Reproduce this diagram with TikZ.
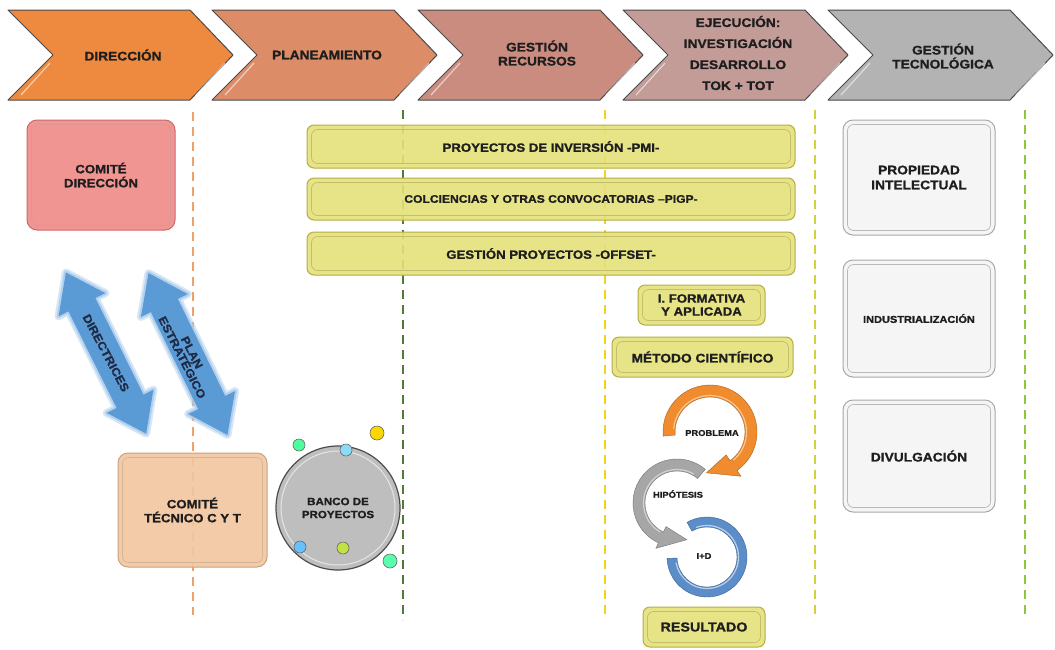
\documentclass[tikz,border=0pt]{standalone}
\usepackage{fontspec}
\setmainfont{Liberation Sans}
\newfontfamily\wf{Liberation Sans}[FakeStretch=1.1, FakeBold=1.2]
\definecolor{chA}{HTML}{EE8A3F}
\definecolor{chB}{HTML}{DC8C66}
\definecolor{chC}{HTML}{CB8C80}
\definecolor{chD}{HTML}{C49C97}
\definecolor{chE}{HTML}{B3B3B3}
\definecolor{chline}{HTML}{4A4A4A}
\definecolor{txt}{HTML}{1E1E1E}
\definecolor{ybar}{HTML}{E5E17A}
\definecolor{ybord}{HTML}{B4AE45}
\definecolor{cdirf}{HTML}{F08A88}
\definecolor{cdirb}{HTML}{CC6A6A}
\definecolor{ctecf}{HTML}{F3C6A0}
\definecolor{ctecb}{HTML}{C9A27F}
\definecolor{gboxf}{HTML}{F5F5F5}
\definecolor{gboxb}{HTML}{A8A8A8}
\definecolor{arrb}{HTML}{5B9BD5}
\definecolor{arrg}{HTML}{A9CBEB}
\definecolor{arrt}{HTML}{1F2A44}
\definecolor{bancof}{HTML}{BEBEBE}
\definecolor{lnA}{HTML}{F2A06A}
\definecolor{lnB}{HTML}{4F7B35}
\definecolor{lnC}{HTML}{F2D21B}
\definecolor{lnD}{HTML}{D2D23A}
\definecolor{lnE}{HTML}{8DC63F}
\definecolor{cyO}{HTML}{F08C2E}
\definecolor{cyG}{HTML}{A6A6A6}
\definecolor{cyB}{HTML}{5B8DC9}
\newcommand\mybevel[2]{\draw[#2, rounded corners=6pt, line width=0.7pt] ([shift={(5pt,-5pt)}]#1.north west) rectangle ([shift={(-5pt,5pt)}]#1.south east);}
\newcommand\dblpath{(-90,0) -- (-54,26) -- (-54,15) -- (54,15) -- (54,26) -- (90,0) -- (54,-26) -- (54,-15) -- (-54,-15) -- (-54,-26) -- cycle}
\begin{document}
\begin{tikzpicture}[x=1pt,y=-1pt,
  chev/.style={draw=chline, line width=1pt, line join=round},
  hdtext/.style={text=txt, align=center, font=\wf\bfseries\fontsize{12.5}{14}\selectfont},
  vline/.style={dash pattern=on 9pt off 6pt, line width=1.4pt},
  bevbox/.style={rounded corners=10pt, line width=1pt, inner sep=0pt, align=center, text=txt, fill opacity=0.9, text opacity=1},
  ybarbox/.style={rounded corners=7pt, line width=1pt, fill=ybar, draw=ybord, inner sep=0pt, align=center, text=txt, fill opacity=0.9, text opacity=1},
  arrtext/.style={text=arrt, align=center, font=\wf\bfseries\fontsize{11.5}{11}\selectfont},
  cylabel/.style={text=txt, font=\wf\bfseries\fontsize{8.5}{10}\selectfont},
  dot/.style={circle, draw=black!60, line width=0.6pt, minimum size=12pt, inner sep=0pt}
]
\useasboundingbox (0,0) rectangle (1055,649);
\fill[white] (0,0) rectangle (1055,649);

% vertical dashed lines
\draw[vline, lnA] (193,112) -- (193,615);
\draw[vline, lnB] (403,110) -- (403,620);
\draw[vline, lnC] (605,110) -- (605,620);
\draw[vline, lnD] (815,110) -- (815,620);
\draw[vline, lnE] (1025,110) -- (1025,615);

% chevrons
\foreach \x/\c in {8/chA,212/chB,418/chC,623/chD,828/chE} {
  \filldraw[chev, fill=\c] (\x,10) -- ++(182,0) -- ++(43,45) -- ++(-43,45) -- ++(-182,0) -- ++(45,-45) -- cycle;
  \draw[white, opacity=0.55, line width=1.3pt] (\x+13,95) -- (\x+42,63);
  \draw[white, opacity=0.55, line width=1.3pt] (\x+188,95) -- (\x+217,63);
}
\node[hdtext] (h1) at (123,55) {DIRECCIÓN};
\node[hdtext] (h2) at (327,55) {PLANEAMIENTO};
\node[hdtext] (h3) at (537,53) {GESTIÓN\\RECURSOS};
\node[hdtext, font=\wf\bfseries\fontsize{12.5}{21}\selectfont] (h4) at (738,53) {EJECUCIÓN:\\INVESTIGACIÓN\\DESARROLLO\\TOK + TOT};
\node[hdtext] (h5) at (943,56) {GESTIÓN\\TECNOLÓGICA};

% yellow bars
\node[ybarbox, minimum width=488pt, minimum height=43pt, font=\wf\bfseries\fontsize{12}{14}\selectfont] (pmi) at (551,146.5) {PROYECTOS DE INVERSIÓN -PMI-};
\node[ybarbox, minimum width=488pt, minimum height=42pt, font=\wf\bfseries\fontsize{11}{13}\selectfont] (pigp) at (551,199) {COLCIENCIAS Y OTRAS CONVOCATORIAS –PIGP-};
\node[ybarbox, minimum width=488pt, minimum height=43pt, font=\wf\bfseries\fontsize{12}{14}\selectfont] (offset) at (551,253.5) {GESTIÓN PROYECTOS -OFFSET-};
\foreach \n in {pmi,pigp,offset} {\mybevel{\n}{ybord!80}}

% small yellow boxes
\node[ybarbox, minimum width=127pt, minimum height=40pt, font=\wf\bfseries\fontsize{12}{13}\selectfont] (form) at (701.5,305) {I. FORMATIVA\\Y APLICADA};
\node[ybarbox, minimum width=181pt, minimum height=40pt, font=\wf\bfseries\fontsize{12.5}{14}\selectfont] (metodo) at (702.5,357) {MÉTODO CIENTÍFICO};
\node[ybarbox, minimum width=122pt, minimum height=40pt, font=\wf\bfseries\fontsize{13}{15}\selectfont] (res) at (704,627) {RESULTADO};
\foreach \n in {form,metodo,res} {\mybevel{\n}{ybord!80}}

% comite direccion
\node[bevbox, fill=cdirf, draw=cdirb, minimum width=148pt, minimum height=110pt, font=\wf\bfseries\fontsize{12}{14}\selectfont] (cdir) at (101,175) {COMITÉ\\DIRECCIÓN};
\mybevel{cdir}{cdirb!70}

% comite tecnico
\node[bevbox, fill=ctecf, draw=ctecb, minimum width=149pt, minimum height=114pt, font=\wf\bfseries\fontsize{12}{14}\selectfont] (ctec) at (192.5,510) {COMITÉ\\TÉCNICO C Y T};
\mybevel{ctec}{ctecb!80}

% double arrows
\begin{scope}[shift={(106,353)}, rotate=-63.5]
  \draw[arrg, line width=8pt, line join=round, opacity=0.45] \dblpath;
  \draw[arrg, line width=4pt, line join=round, opacity=0.8] \dblpath;
  \fill[arrb] \dblpath;
\end{scope}
\node[arrtext, rotate=-62] (dirtxt) at (106,353) {DIRECTRICES};
\begin{scope}[shift={(188,354)}, rotate=-64]
  \draw[arrg, line width=8pt, line join=round, opacity=0.45] \dblpath;
  \draw[arrg, line width=4pt, line join=round, opacity=0.8] \dblpath;
  \fill[arrb] \dblpath;
\end{scope}
\node[arrtext, rotate=-63] (plantxt) at (187,355) {PLAN\\ESTRATÉGICO};

% banco de proyectos
\node[circle, fill=bancof, draw=black!70, line width=1.2pt, minimum size=124pt, inner sep=0pt, align=center, text=txt, font=\wf\bfseries\fontsize{10.5}{13}\selectfont] (banco) at (338,508) {BANCO DE\\PROYECTOS};
\draw[white!80!gray, line width=1pt] (banco.center) circle (57pt);
\node[dot, fill=green!55!cyan!70] (d1) at (299,445) {};
\node[dot, fill=cyan!45] (d2) at (346,450) {};
\node[dot, fill=yellow!75!orange, minimum size=14pt] (d3) at (377,433) {};
\node[dot, fill=blue!40!cyan!60] (d4) at (300,547) {};
\node[dot, fill=yellow!70!green!80] (d5) at (343,548) {};
\node[dot, fill=green!50!cyan!65, minimum size=14pt] (d6) at (390,561) {};

% cycle
\begin{scope}[shift={(707,557)}]
  \fill[cyB, draw=cyB!70!black, line width=0.4pt] (120:40pt) arc[start angle=120, end angle=-178, radius=40pt] -- (-178:30pt) arc[start angle=-178, end angle=120, radius=30pt] -- cycle;
  \draw[white, opacity=0.6, line width=1.2pt] (110:31.5pt) arc[start angle=110, end angle=-170, radius=31.5pt];
\end{scope}
\begin{scope}[shift={(677,503)}]
  \fill[cyG, draw=cyG!70!black, line width=0.4pt] (50:44pt) arc[start angle=50, end angle=245, radius=44pt] -- (245:50pt) -- (285:38pt) -- (245:26pt) -- (245:32pt) arc[start angle=245, end angle=50, radius=32pt] -- cycle;
  \draw[white, opacity=0.5, line width=1.2pt] (60:33.5pt) arc[start angle=60, end angle=240, radius=33.5pt];
\end{scope}
\begin{scope}[shift={(710,432)}]
  \fill[cyO, draw=cyO!70!black, line width=0.4pt] (185:47pt) arc[start angle=185, end angle=-55, radius=47pt] -- (-55:54pt) -- (-95:41pt) -- (-55:28pt) -- (-55:35pt) arc[start angle=-55, end angle=185, radius=35pt] -- cycle;
  \draw[white, opacity=0.5, line width=1.2pt] (175:36.5pt) arc[start angle=175, end angle=-50, radius=36.5pt];
\end{scope}
\node[cylabel] (prob) at (712,433) {PROBLEMA};
\node[cylabel] (hip) at (678,494) {HIPÓTESIS};
\node[cylabel] (imd) at (704,556) {I+D};

% right boxes
\node[bevbox, fill=gboxf, draw=gboxb, minimum width=152pt, minimum height=115pt, font=\wf\bfseries\fontsize{12.5}{15}\selectfont] (prop) at (919,177.5) {PROPIEDAD\\INTELECTUAL};
\node[bevbox, fill=gboxf, draw=gboxb, minimum width=152pt, minimum height=117pt, font=\wf\bfseries\fontsize{10}{12}\selectfont] (ind) at (919,318.5) {INDUSTRIALIZACIÓN};
\node[bevbox, fill=gboxf, draw=gboxb, minimum width=152pt, minimum height=112pt, font=\wf\bfseries\fontsize{12.5}{15}\selectfont] (div) at (919,456) {DIVULGACIÓN};
\foreach \n in {prop,ind,div} {\mybevel{\n}{gboxb!80}}
\end{tikzpicture}
\end{document}
